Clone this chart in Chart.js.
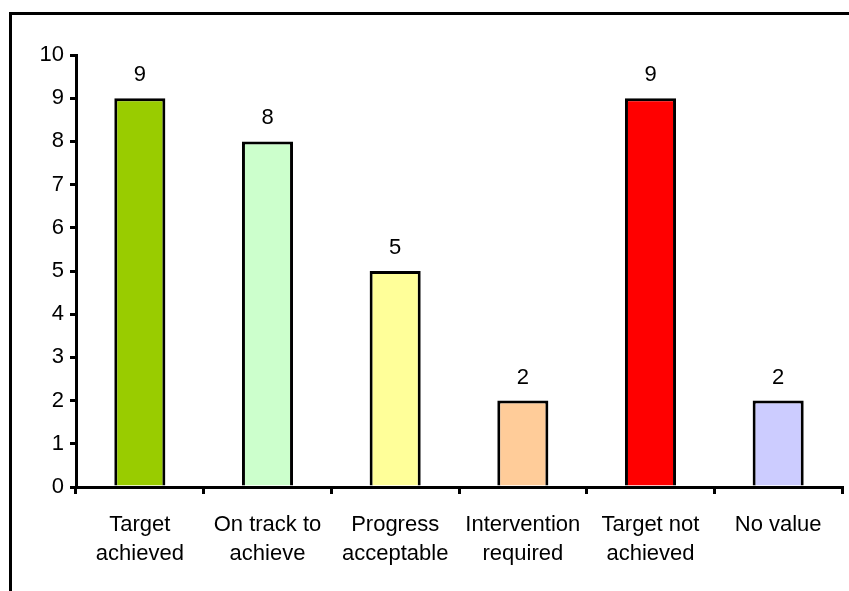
<!DOCTYPE html>
<html>
<head>
<meta charset="utf-8">
<script src="https://cdn.jsdelivr.net/npm/chart.js@4"></script>
<style>
  body { margin: 0; background: #fff; }
  #wrap { position: relative; width: 849px; height: 591px; overflow: hidden; }
  #frame { position: absolute; left: 9px; top: 12px; width: 900px; height: 700px;
           border-left: 3px solid #000; border-top: 3px solid #000; }
  #chart { position: absolute; left: 0; top: 0; }
</style>
</head>
<body>
<div id="wrap">
  <div id="frame"></div>
  <canvas id="chart" width="849" height="591"></canvas>
</div>
<script>
var categories = [
    ["Target", "achieved"],
    ["On track to", "achieve"],
    ["Progress", "acceptable"],
    ["Intervention", "required"],
    ["Target not", "achieved"],
    ["No value"]
];
var counts = [9, 8, 5, 2, 9, 2];
var bar_colors = ["#99CC00", "#CCFFCC", "#FFFF99", "#FFCC99", "#FF0000", "#CCCCFF"];
var y_min = 0;
var y_max = 10;
var y_step = 1;

const font_family = "'Liberation Sans', Arial, sans-serif";

// draws the value above each bar
const value_labels = {
    id: "value_labels",
    afterDatasetsDraw(chart) {
        const ctx = chart.ctx;
        const meta = chart.getDatasetMeta(0);
        ctx.save();
        ctx.font = "22px " + font_family;
        ctx.fillStyle = "#000";
        ctx.textAlign = "center";
        ctx.textBaseline = "middle";
        meta.data.forEach(function (bar, i) {
            ctx.fillText(String(counts[i]), bar.x, bar.y - 23);
        });
        ctx.restore();
    }
};

const ctx = document.getElementById("chart").getContext("2d");
new Chart(ctx, {
    type: "bar",
    data: {
        labels: categories,
        datasets: [{
            data: counts,
            backgroundColor: bar_colors,
            borderColor: "#000",
            borderWidth: 3,
            borderSkipped: "start",
            barPercentage: 0.4,
            categoryPercentage: 1.0
        }]
    },
    options: {
        responsive: false,
        animation: false,
        layout: { padding: { left: 0, top: 55, right: 7, bottom: 0 } },
        plugins: {
            legend: { display: false },
            tooltip: { enabled: false }
        },
        scales: {
            x: {
                grid: { drawOnChartArea: false, drawTicks: true, tickLength: 7, color: "#000", lineWidth: 3, offset: true },
                border: { color: "#000", width: 3 },
                ticks: {
                    color: "#000",
                    font: { family: font_family, size: 22, lineHeight: 1.32 },
                    padding: 16,
                    maxRotation: 0,
                    autoSkip: false
                },
                afterFit: function (scale) { scale.height = 104; }
            },
            y: {
                min: y_min,
                max: y_max,
                grid: { drawOnChartArea: false, drawTicks: true, tickLength: 6, color: "#000", lineWidth: 3 },
                border: { color: "#000", width: 3 },
                ticks: {
                    stepSize: y_step,
                    color: "#000",
                    font: { family: font_family, size: 22 },
                    padding: 6
                },
                afterFit: function (scale) { scale.width = 76; }
            }
        }
    },
    plugins: [value_labels]
});
</script>
</body>
</html>
